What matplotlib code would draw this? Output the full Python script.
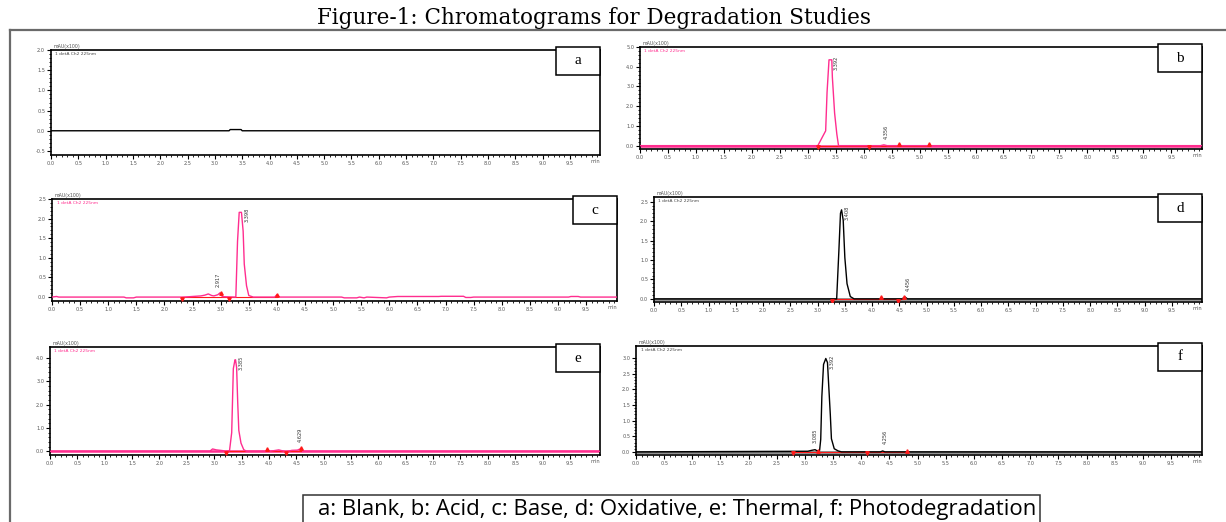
import matplotlib
matplotlib.use("Agg")
import matplotlib.pyplot as plt
from matplotlib.patches import Rectangle
from matplotlib.lines import Line2D

# ---------------- data ----------------
panel_ids = ["a", "b", "c", "d", "e", "f"]
legend_text = "a: Blank, b: Acid, c: Base, d: Oxidative, e: Thermal, f: Photodegradation"
title_text = "Figure-1: Chromatograms for Degradation Studies"
x_ticks = [0.0, 0.5, 1.0, 1.5, 2.0, 2.5, 3.0, 3.5, 4.0, 4.5, 5.0, 5.5, 6.0, 6.5, 7.0, 7.5, 8.0, 8.5, 9.0, 9.5]

# a: blank
a_time = [0.0, 3.26, 3.28, 3.48, 3.50, 10.05]
a_signal = [0.0, 0.0, 0.03, 0.03, 0.0, 0.0]
a_yticks = [-0.5, 0.0, 0.5, 1.0, 1.5, 2.0]

# b: acid
b_time = [0.0, 3.18, 3.32, 3.345, 3.38, 3.43, 3.44, 3.48, 3.52, 3.55, 4.30, 4.36, 4.42, 10.05]
b_signal = [0.0, 0.0, 0.75, 2.7, 4.35, 4.35, 3.47, 1.65, 0.58, 0.0, 0.0, 0.04, 0.0, 0.0]
b_yticks = [0.0, 1.0, 2.0, 3.0, 4.0, 5.0]
b_peaks = [(3.47, "3.392"), (4.36, "4.356")]
b_marks = [(3.18, -0.05, "v"), (4.10, -0.05, "v"), (4.63, 0.08, "^"), (5.16, 0.08, "^")]

# c: base
c_time = [0.0, 0.08, 0.12, 1.28, 1.32, 1.45, 1.50, 2.32, 2.45, 2.65, 2.72, 2.78, 2.84, 2.88,
          2.95, 2.99, 3.03, 3.27, 3.30, 3.33, 3.37, 3.40, 3.42, 3.46, 3.50, 3.58, 3.96, 4.00,
          4.05, 5.15, 5.20, 5.42, 5.47, 5.55, 5.60, 5.95, 6.00, 6.15, 6.25, 6.88, 6.92, 7.32,
          7.36, 7.45, 7.50, 9.19, 9.23, 9.36, 9.40, 10.05]
c_signal = [0.0, 0.015, 0.0, 0.0, -0.02, -0.02, 0.0, 0.0, 0.01, 0.03, 0.05, 0.08, 0.04, 0.03,
            0.06, 0.11, 0.01, 0.0, 1.42, 2.16, 2.16, 1.68, 0.84, 0.29, 0.04, 0.0, 0.0, 0.06,
            0.0, 0.0, -0.02, -0.02, 0.0, -0.02, 0.0, -0.02, 0.0, 0.015, 0.015, 0.015, 0.02, 0.02,
            -0.01, -0.01, 0.0, 0.0, 0.015, 0.015, 0.0, 0.0]
c_yticks = [0.0, 0.5, 1.0, 1.5, 2.0, 2.5]
c_peaks = [(3.42, "3.398"), (2.92, "2.917")]
c_marks = [(2.32, -0.05, "v"), (3.00, 0.1, "^"), (3.15, -0.05, "v"), (4.01, 0.06, "^")]

# d: oxidative
d_time = [0.0, 3.35, 3.39, 3.42, 3.44, 3.47, 3.50, 3.54, 3.60, 3.67, 4.55, 4.60, 4.65, 10.05]
d_signal = [0.0, 0.0, 1.22, 2.20, 2.29, 2.02, 1.06, 0.39, 0.06, 0.0, 0.0, 0.05, 0.0, 0.0]
d_yticks = [0.0, 0.5, 1.0, 1.5, 2.0, 2.5]
d_peaks = [(3.50, "3.408"), (4.62, "4.456")]
d_marks = [(3.26, -0.05, "v"), (4.16, 0.06, "^"), (4.47, -0.05, "v"), (4.59, 0.06, "^")]

# e: thermal
e_time = [0.0, 2.92, 2.97, 3.04, 3.15, 3.21, 3.28, 3.32, 3.33, 3.35, 3.38, 3.39, 3.41, 3.43,
          3.45, 3.49, 3.54, 3.59, 3.95, 3.98, 4.02, 4.18, 4.31, 4.42, 4.52, 4.59, 4.63, 10.05]
e_signal = [0.0, 0.0, 0.10, 0.06, 0.03, 0.0, 0.02, 0.8, 1.7, 3.55, 3.93, 3.93, 3.6, 2.1,
            0.9, 0.35, 0.07, 0.0, 0.0, 0.06, 0.0, 0.06, -0.02, 0.04, 0.05, 0.12, 0.0, 0.0]
e_yticks = [0.0, 1.0, 2.0, 3.0, 4.0]
e_peaks = [(3.44, "3.385"), (4.52, "4.629")]
e_marks = [(3.21, -0.08, "v"), (3.97, 0.08, "^"), (4.31, -0.08, "v"), (4.59, 0.12, "^")]

# f: photodegradation
f_time = [0.0, 3.05, 3.12, 3.18, 3.22, 3.26, 3.28, 3.30, 3.33, 3.37, 3.40, 3.42, 3.45, 3.47,
          3.52, 3.59, 3.65, 4.34, 4.38, 4.42, 10.05]
f_signal = [0.0, 0.02, 0.05, 0.07, 0.03, 0.05, 0.4, 1.77, 2.8, 2.99, 2.86, 2.19, 1.2, 0.42,
            0.1, 0.03, 0.0, 0.0, 0.03, 0.0, 0.0]
f_yticks = [0.0, 0.5, 1.0, 1.5, 2.0, 2.5, 3.0]
f_peaks = [(3.43, "3.392"), (3.14, "3.085"), (4.38, "4.256")]
f_marks = [(2.78, -0.03, "v"), (3.23, 0.03, "^"), (4.11, -0.03, "v"), (4.81, 0.04, "^")]

# ---------------- layout / style ----------------
W, H = 1226, 522
PINK = "#ff2d8f"
RED = "#ff1a1a"
LABEL_PX = 22  # length of a rotated peak label in pixels


def fb(l, t, r, b):
    return [l / W, 1 - b / H, (r - l) / W, (b - t) / H]


panels = {
    "a": dict(t=a_time, s=a_signal, yt=a_yticks, ylim=(-0.6, 2.0), col="black", base=None, peaks=[], marks=[],
              pos=(51, 50, 600, 155)),
    "b": dict(t=b_time, s=b_signal, yt=b_yticks, ylim=(-0.17, 5.0), col=PINK, base=PINK, peaks=b_peaks, marks=b_marks,
              pos=(640, 47, 1202, 149)),
    "c": dict(t=c_time, s=c_signal, yt=c_yticks, ylim=(-0.1, 2.5), col=PINK, base=None, peaks=c_peaks, marks=c_marks,
              pos=(52, 199, 617, 301)),
    "d": dict(t=d_time, s=d_signal, yt=d_yticks, ylim=(-0.08, 2.62), col="black", base="#707070", peaks=d_peaks, marks=d_marks,
              pos=(654, 197, 1202, 302)),
    "e": dict(t=e_time, s=e_signal, yt=e_yticks, ylim=(-0.16, 4.48), col=PINK, base=PINK, peaks=e_peaks, marks=e_marks,
              pos=(50, 347, 600, 455)),
    "f": dict(t=f_time, s=f_signal, yt=f_yticks, ylim=(-0.1, 3.39), col="black", base="#707070", peaks=f_peaks, marks=f_marks,
              pos=(636, 346, 1202, 455)),
}

fig = plt.figure(figsize=(W / 100, H / 100), dpi=100)
fig.patch.set_facecolor("white")

# outer frame (left & top visible)
fig.add_artist(Line2D([10 / W, 10 / W], [0, 1 - 30 / H], transform=fig.transFigure, color="#6a6a6a", lw=1.6))
fig.add_artist(Line2D([10 / W, 1.0], [1 - 30 / H, 1 - 30 / H], transform=fig.transFigure, color="#6a6a6a", lw=1.6))

fig.text(594 / W, 1 - 18 / H, title_text, ha="center", va="center", fontsize=15.5,
         family="DejaVu Serif", color="black")

for pid in panel_ids:
    p = panels[pid]
    l, t, r, b = p["pos"]
    ax = fig.add_axes(fb(l, t, r, b))
    ax.set_xlim(0, 10.05)
    y0, y1 = p["ylim"]
    ax.set_ylim(y0, y1)
    if p["base"] is not None:
        ax.axhline(0, color=p["base"], lw=1.8, zorder=1)
    ax.plot(p["t"], p["s"], color=p["col"], lw=1.0, zorder=3)
    # integration baseline + markers
    if p["marks"]:
        xs = [m[0] for m in p["marks"]]
        ax.plot([min(xs), max(xs)], [0, 0], color=RED, lw=0.8, zorder=2)
        for mx, my, mk in p["marks"]:
            ax.plot([mx], [my], marker=mk, color=RED, markersize=2.5, zorder=4)
    # peak labels: just above the apex, clipped to the top of the plot
    ax_h = b - t
    lab_len = LABEL_PX / ax_h * (y1 - y0)
    for rt, lab in p["peaks"]:
        apex = max(s for tt, s in zip(p["t"], p["s"]) if abs(tt - rt) <= 0.12)
        ypos = min(apex + 0.06 * (y1 - y0), y1 - lab_len - 0.01 * (y1 - y0))
        ax.text(rt, ypos, lab, rotation=90, fontsize=3.6, va="bottom", ha="left",
                color="#333333", zorder=5)
    ax.set_xticks(x_ticks)
    ax.set_xticklabels([f"{v:.1f}" for v in x_ticks])
    ax.set_xticks([i / 10 for i in range(0, 101)], minor=True)
    ax.set_yticks(p["yt"])
    ax.set_yticklabels([f"{v:.1f}" for v in p["yt"]])
    ax.tick_params(which="major", length=3, width=0.8, labelsize=3.6, pad=1.2, labelcolor="#555555")
    ax.tick_params(which="minor", length=1.5, width=0.6)
    ax.tick_params(axis="y", which="minor", length=1.2)
    yt = p["yt"]
    step = yt[1] - yt[0]
    ax.set_yticks([yt[0] + step * k / 5 for k in range(0, 5 * (len(yt) - 1) + 1)], minor=True)
    for sp in ax.spines.values():
        sp.set_linewidth(1.2)
    ax.text(1.0, -0.04, "min", transform=ax.transAxes, ha="right", va="top", fontsize=3.6, color="#555555")
    ax.text(0.005, 1.01, "mAU(x100)", transform=ax.transAxes, ha="left", va="bottom", fontsize=3.4, color="#555555")
    ax.text(0.008, 0.985, "1 detA Ch2 225nm", transform=ax.transAxes, ha="left", va="top", fontsize=3.2,
            color=p["col"] if p["col"] != "black" else "#444444")
    # label box
    bw, bh = 44, 28
    bx0 = r - bw
    by0 = t - 3
    fig.add_artist(Rectangle((bx0 / W, 1 - (by0 + bh) / H), bw / W, bh / H, transform=fig.transFigure,
                             facecolor="white", edgecolor="black", lw=1.1, zorder=10))
    fig.text((bx0 + bw / 2) / W, 1 - (by0 + bh / 2) / H, pid, ha="center", va="center",
             fontsize=11, family="Liberation Serif", zorder=11)

# bottom legend box
fig.add_artist(Rectangle((303 / W, -0.05), (1040 - 303) / W, 0.05 + (522 - 495) / H, transform=fig.transFigure,
                         facecolor="white", edgecolor="#333333", lw=1.1))
fig.text(318 / W, 1 - 510 / H, legend_text, ha="left", va="center", fontsize=15.9, family="Open Sans", color="black")

fig.savefig("out.png", dpi=100, facecolor="white")
